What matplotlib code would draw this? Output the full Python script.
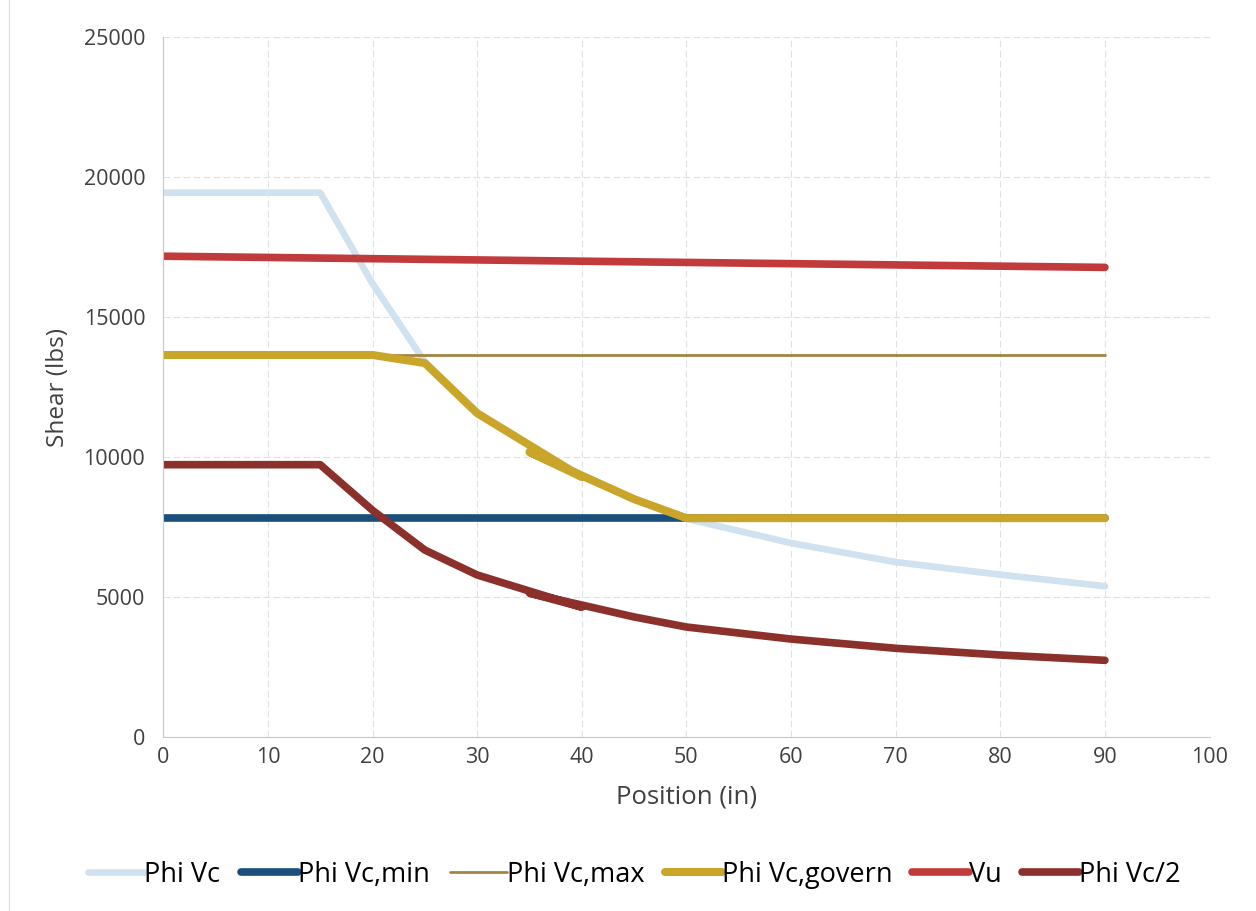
import matplotlib.pyplot as plt
from matplotlib.lines import Line2D

plt.rcParams['font.family'] = ['Open Sans', 'DejaVu Sans']

# position along the member (in); the 40/35 order is as in the source sheet
position = [0, 5, 10, 15, 20, 25, 30, 40, 35, 45, 50, 60, 70, 80, 90]
position_flat = [0, 90]

phi_vc = [19450, 19450, 19450, 19450, 16200, 13400, 11570, 9290, 10250,
          8500, 7800, 6930, 6250, 5800, 5390]
phi_vc_min = [7820, 7820]
phi_vc_max = [13650, 13650]
phi_vc_govern = [13650, 13650, 13650, 13650, 13650, 13360, 11570, 9290, 10180,
                 8500, 7820, 7820, 7820, 7820, 7820]
vu = [17180, 16780]
phi_vc_half = [9730, 9730, 9730, 9730, 8100, 6680, 5790, 4640, 5140,
               4290, 3930, 3500, 3170, 2930, 2740]

fig = plt.figure(figsize=(12.56, 9.11), dpi=100)
ax = fig.add_axes([0.130, 0.191, 0.833, 0.768])

ax.plot(position, phi_vc, color='#d0e1ef', lw=4.8, solid_capstyle='round', label='Phi Vc')
ax.plot(position_flat, phi_vc_min, color='#1b4f7d', lw=5.5, solid_capstyle='round', label='Phi Vc,min')
ax.plot(position_flat, phi_vc_max, color='#a38443', lw=2, solid_capstyle='round', label='Phi Vc,max')
ax.plot(position, phi_vc_govern, color='#c9a52a', lw=5.8, solid_capstyle='round', label='Phi Vc,govern')
ax.plot(position_flat, vu, color='#c23b3c', lw=5.5, solid_capstyle='round', label='Vu')
ax.plot(position, phi_vc_half, color='#8c302b', lw=5.5, solid_capstyle='round', label='Phi Vc/2')

ax.set_xlim(0, 100)
ax.set_ylim(0, 25000)
ax.set_xticks(range(0, 101, 10))
ax.set_yticks(range(0, 25001, 5000))

ax.grid(True, color='#dce3e8', linestyle=(0, (6, 3)), linewidth=0.8)
ax.set_axisbelow(True)
for side in ['top', 'right']:
    ax.spines[side].set_visible(False)
for side in ['left', 'bottom']:
    ax.spines[side].set_color('#c8c8c8')
ax.tick_params(length=0, labelsize=15.5, colors='#404040')
ax.tick_params(axis='x', pad=7)
ax.tick_params(axis='y', pad=13)

ax.set_xlabel('Position (in)', fontsize=18.5, color='#404040', labelpad=12)
ax.set_ylabel('Shear (lbs)', fontsize=17.5, color='#404040', labelpad=10)

fig.legend(loc='center', bbox_to_anchor=(0.505, 0.04), ncol=6, frameon=False,
           fontsize=19.5, handlelength=2.1, handletextpad=0.0, columnspacing=0.75)

# faint scan edge on the left
fig.add_artist(Line2D([0.007, 0.007], [0, 1], color='#dddddd', lw=0.8))

fig.savefig('out.png', dpi=100)
